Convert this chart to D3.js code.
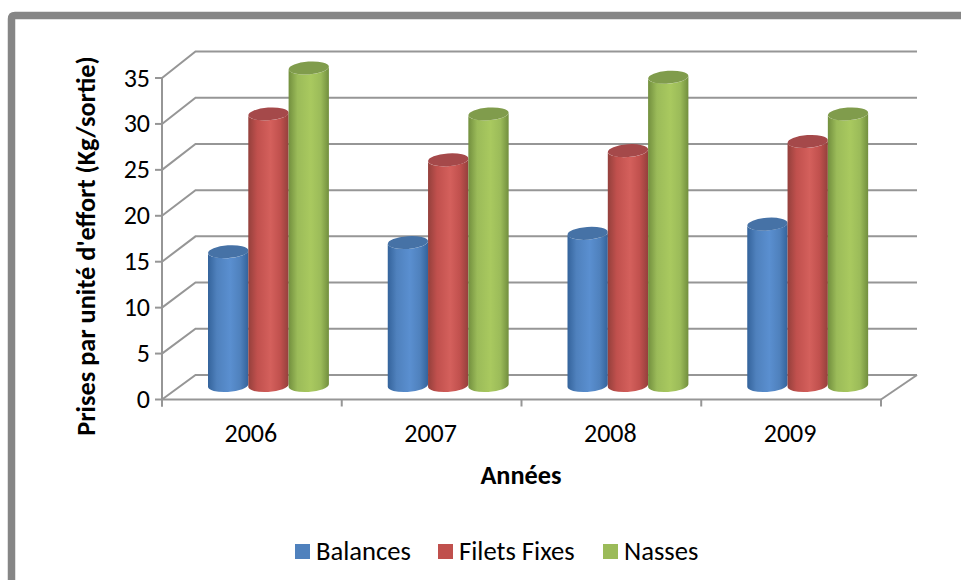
<!DOCTYPE html>
<html><head><meta charset="utf-8">
<script src="https://cdnjs.cloudflare.com/ajax/libs/d3/7.8.5/d3.min.js"></script>
<style>html,body{margin:0;padding:0;background:#fff;overflow:hidden}svg{display:block}</style>
</head><body><div id="c"></div>
<script>
const years = ["2006","2007","2008","2009"];
const seriesNames = ["Balances","Filets Fixes","Nasses"];
const balances = [15,16,17,18];
const filetsFixes = [30,25,26,27];
const nasses = [35,30,34,30];
const yTicks = [0,5,10,15,20,25,30,35];
const seriesValues = [balances, filetsFixes, nasses];
const palette = [
  {base:"#4f81bd",dark:"#34639b",light:"#5a8fd0",top:"#4672a6"},
  {base:"#c0504d",dark:"#94403c",light:"#d4605c",top:"#a5494a"},
  {base:"#9bbb59",dark:"#728f3e",light:"#a9c95f",top:"#809c4c"}
];
const font = "Carlito, Lato, 'Open Sans', sans-serif";
const W=961,H=580;
const svg=d3.select("#c").append("svg").attr("width",W).attr("height",H);

svg.append("path").attr("d","M11.5,580 V19 Q11.5,15.5 15,15.5 H961")
  .attr("fill","none").attr("stroke","#868686").attr("stroke-width",7.5);

const x=d3.scaleBand().domain(years).range([162,881]);
const y=d3.scaleLinear().domain([0,35]).range([399.5,78]);
const yBack=d3.scaleLinear().domain([0,35]).range([375,51.5]);
const depthX=33.5;
const grid="#969696";
const g=svg.append("g");

yTicks.forEach(t=>{
  g.append("path").attr("d",`M${x.range()[0]},${y(t)} L${x.range()[0]+depthX},${yBack(t)} H917`)
   .attr("fill","none").attr("stroke",grid).attr("stroke-width",2);
  g.append("line").attr("x1",155).attr("x2",162).attr("y1",y(t)).attr("y2",y(t)).attr("stroke",grid).attr("stroke-width",2);
  g.append("text").attr("x",150).attr("y",y(t)+8.5).attr("text-anchor","end")
   .attr("font-family",font).attr("font-size",26).attr("fill","#000").text(t);
});
g.append("line").attr("x1",x.range()[1]).attr("y1",y(0)).attr("x2",917).attr("y2",yBack(0)).attr("stroke",grid).attr("stroke-width",2);
g.append("line").attr("x1",162).attr("x2",162).attr("y1",y(35)).attr("y2",y(0)+7).attr("stroke",grid).attr("stroke-width",2);
g.append("line").attr("x1",161).attr("x2",882).attr("y1",y(0)).attr("y2",y(0)).attr("stroke",grid).attr("stroke-width",2);
years.concat(["end"]).forEach((c,i)=>{
  const px=x.range()[0]+i*x.step();
  g.append("line").attr("x1",px).attr("x2",px).attr("y1",y(0)).attr("y2",y(0)+7).attr("stroke",grid).attr("stroke-width",2);
});
years.forEach(c=>{
  g.append("text").attr("x",x(c)+x.bandwidth()/2-1).attr("y",442).attr("text-anchor","middle")
   .attr("font-family",font).attr("font-size",26).attr("fill","#000").text(c);
});

const defs=svg.append("defs");
palette.forEach((p,i)=>{
  const gr=defs.append("linearGradient").attr("id","cyl"+i);
  [[0,p.dark],[.22,p.base],[.55,p.light],[.8,p.base],[1,p.dark]].forEach(s=>gr.append("stop").attr("offset",s[0]).attr("stop-color",s[1]));
});

const barW=40.3, rx=barW/2, ry=6.4;
const inner=d3.scaleBand().domain(seriesNames).range([0,barW*3]);
const cx0=46;
const baseOffset=14;
years.forEach((c,ci)=>{
  seriesNames.forEach((s,si)=>{
    const v=seriesValues[si][ci];
    const left=x(c)+cx0+inner(s);
    const yb=y(0)-baseOffset, yt=y(v)-baseOffset+4;
    const right=left+barW, mid=left+rx;
    const d=`M${left},${yt+1.2} L${left},${yb+1.2} A${rx},${ry} -4 0 0 ${right},${yb-1.2} L${right},${yt-1.2} A${rx},${ry} -4 0 1 ${left},${yt+1.2} Z`;
    g.append("path").attr("d",d).attr("fill",`url(#cyl${si})`);
    g.append("ellipse").attr("cx",mid).attr("cy",yt).attr("rx",rx).attr("ry",ry)
      .attr("transform",`rotate(-4 ${mid} ${yt})`).attr("fill",palette[si].top);
  });
});

svg.append("text").attr("transform","translate(95,246) rotate(-90)").attr("text-anchor","middle")
  .attr("font-family",font).attr("font-size",26.3).attr("font-weight",700).text("Prises par unité d'effort (Kg/sortie)");
svg.append("text").attr("x",521).attr("y",484).attr("text-anchor","middle")
  .attr("font-family",font).attr("font-size",26.3).attr("font-weight",700).text("Années");

const legendX=d3.scaleOrdinal().domain(seriesNames).range([295,438,603]);
seriesNames.forEach((s,i)=>{
  svg.append("rect").attr("x",legendX(s)).attr("y",544).attr("width",15).attr("height",15).attr("fill",palette[i].base);
  svg.append("text").attr("x",legendX(s)+21).attr("y",560).attr("font-family",font).attr("font-size",26.6).text(s);
});
</script></body></html>
